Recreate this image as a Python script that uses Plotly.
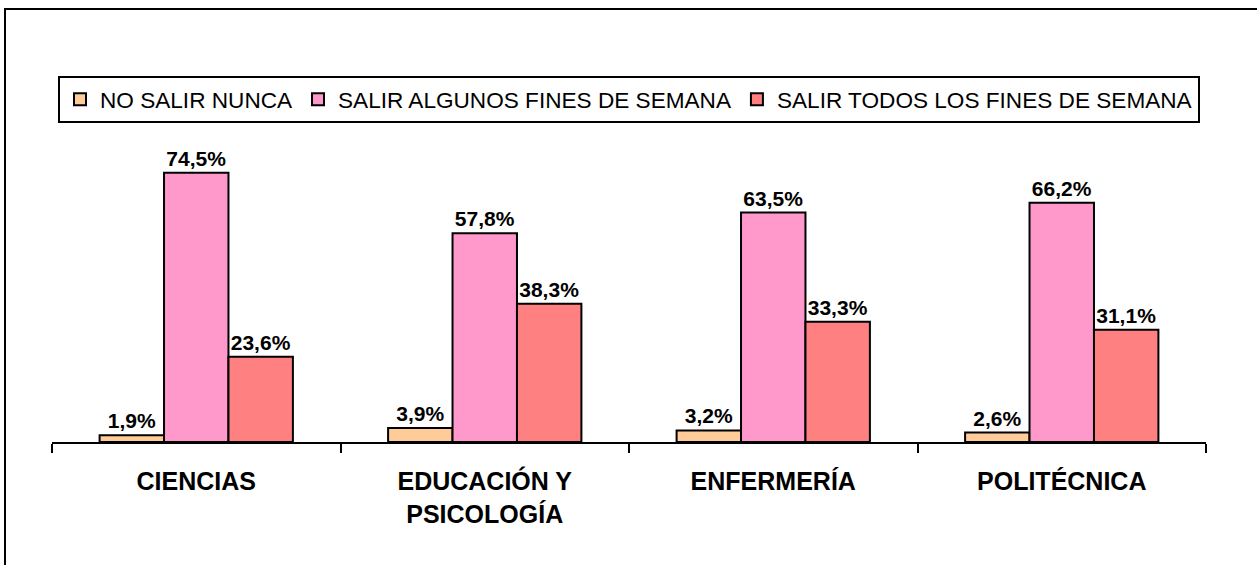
import plotly.graph_objects as go

categories = ["CIENCIAS", "EDUCACIÓN Y<br>PSICOLOGÍA", "ENFERMERÍA", "POLITÉCNICA"]
series_names = ["NO SALIR NUNCA", "SALIR ALGUNOS FINES DE SEMANA", "SALIR TODOS LOS FINES DE SEMANA"]
no_salir = [1.9, 3.9, 3.2, 2.6]
algunos = [74.5, 57.8, 63.5, 66.2]
todos = [23.6, 38.3, 33.3, 31.1]
colors = ["#FFCC99", "#FF99CC", "#FF8080"]

W, H = 1257, 565
L, R, T, B = 52, 51, 153, 123
pw, ph = W - L - R, H - T - B
FONT = "Liberation Sans, Arial, sans-serif"

fig = go.Figure()
for name, vals, col in zip(series_names, [no_salir, algunos, todos], colors):
    fig.add_trace(go.Bar(
        x=categories, y=vals, name=name,
        marker=dict(color=col, line=dict(color="black", width=2)),
        text=[f"{v:.1f}%".replace(".", ",") for v in vals],
        textposition="outside",
        textfont=dict(family=FONT, size=21, color="black", weight="bold"),
        cliponaxis=False,
    ))

def px_x(x):
    return (x - L) / pw

def px_y(y):
    return (H - B - y) / ph

fig.update_layout(
    width=W, height=H,
    margin=dict(l=L, r=R, t=T, b=B, autoexpand=False),
    paper_bgcolor="white", plot_bgcolor="white",
    barmode="group", bargap=0.33, bargroupgap=0,
    showlegend=True,
    legend=dict(
        orientation="h", x=px_x(58), y=px_y(76), xanchor="left", yanchor="top",
        bordercolor="black", borderwidth=2,
        font=dict(family=FONT, size=22.6, color="black"),
        itemwidth=30, tracegroupgap=0, traceorder="normal",
    ),
    xaxis=dict(
        showline=True, linecolor="black", linewidth=2,
        ticks="outside", tickson="boundaries", ticklen=9, tickwidth=2, tickcolor="black",
        tickfont=dict(family=FONT, size=25, color="black", weight="bold"),
        showgrid=False, ticklabelstandoff=16,
    ),
    yaxis=dict(range=[0, 80], visible=False, showgrid=False),
    shapes=[dict(type="rect", xref="paper", yref="paper",
                 x0=px_x(5), x1=px_x(1265), y0=px_y(9), y1=px_y(575),
                 line=dict(color="black", width=2))],
)

fig.write_html("out.html", config={"displayModeBar": False},
               post_script="document.body.style.margin='0';document.body.style.overflow='hidden';")
